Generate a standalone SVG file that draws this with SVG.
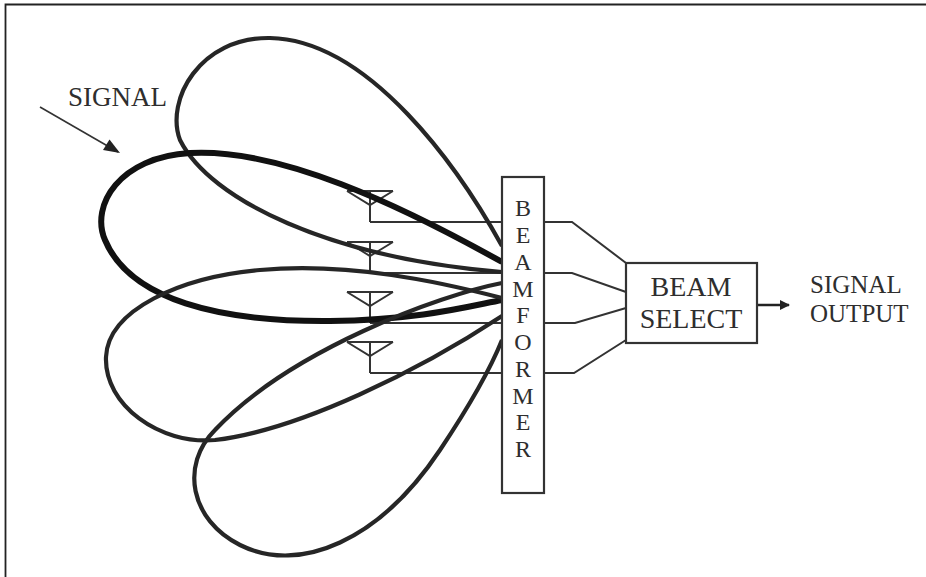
<svg xmlns="http://www.w3.org/2000/svg" width="926" height="577" viewBox="0 0 926 577">
<style>
.lobe{fill:none;stroke:#262626;stroke-width:4.2;stroke-linejoin:round}
.lobe.main{stroke:#111;stroke-width:6}
.wire{fill:none;stroke:#333;stroke-width:2}
.ant{fill:none;stroke:#333;stroke-width:2}
.box{fill:#fff;stroke:#333;stroke-width:2.2}
.lbl{font-family:"Liberation Serif","Times New Roman",serif;fill:#2e2e2e}
</style>
<defs>
<marker id="ah" markerWidth="10" markerHeight="10" refX="9" refY="5" orient="auto" markerUnits="userSpaceOnUse" viewBox="0 0 10 10">
<path d="M0,0 L10,5 L0,10 Z" fill="#222"/>
</marker>
</defs>
<rect width="926" height="577" fill="#fff"/>
<path d="M5.5 577 V4.5 H926" fill="none" stroke="#222" stroke-width="1.8"/>

<g id="connectors">
<path class="wire" d="M370 222 H502 M370 273 H502 M370 323 H502 M370 373 H502"/>
<path class="wire" d="M544 222 H572 L626 263 M544 273 H572 L626 292 M544 323 H575 L626 308 M544 373 H574 L626 340"/>
<line x1="757" y1="305" x2="789" y2="305" stroke="#222" stroke-width="2.5" marker-end="url(#ah)"/>
<line x1="40" y1="107" x2="118" y2="152" stroke="#333" stroke-width="1.6"/>
<path d="M120 153 L103 150 L109.5 139.5 Z" fill="#222"/>
</g>

<g id="antennas">
<g id="antenna1"><path class="ant" d="M347 191 H393 M347 191 L370 205 L393 191 M370 191 V222"/></g>
<g id="antenna2"><path class="ant" d="M347 242 H393 M347 242 L370 256 L393 242 M370 242 V273"/></g>
<g id="antenna3"><path class="ant" d="M347 292 H393 M347 292 L370 306 L393 292 M370 292 V323"/></g>
<g id="antenna4"><path class="ant" d="M347 342 H393 M347 342 L370 356 L393 342 M370 342 V373"/></g>
</g>

<g id="lobes">
<path class="lobe" d="M502 246 C460 170 370 40 270 38 C200 37 165 100 180 140 C210 200 330 258 502 272"/>
<path class="lobe main" d="M502 262 C400 205 280 148 190 153 C120 157 90 205 105 240 C130 300 220 322 330 321 C420 320 470 306 502 300"/>
<path class="lobe" d="M502 298 C440 282 350 262 260 270 C180 277 108 310 106 357 C104 405 160 445 215 440 C300 430 420 370 502 316"/>
<path class="lobe" d="M502 283 C440 295 290 350 215 430 C180 465 190 520 240 545 C300 575 380 540 440 450 C470 405 490 370 502 340"/>
</g>

<g id="beamformer">
<rect class="box" x="502" y="177" width="42" height="316"/>
<g class="lbl" font-size="24" text-anchor="middle">
<text x="523" y="216">B</text>
<text x="523" y="243">E</text>
<text x="523" y="270">A</text>
<text x="523" y="297">M</text>
<text x="523" y="323">F</text>
<text x="523" y="350">O</text>
<text x="523" y="377">R</text>
<text x="523" y="404">M</text>
<text x="523" y="430">E</text>
<text x="523" y="457">R</text>
</g>
</g>

<g id="beam-select">
<rect class="box" x="626" y="263" width="131" height="80" stroke-width="3"/>
<text class="lbl" x="691" y="296" font-size="28" text-anchor="middle">BEAM</text>
<text class="lbl" x="691" y="328" font-size="28" text-anchor="middle">SELECT</text>
</g>

<g id="signal-output">
<text class="lbl" x="810" y="293" font-size="25">SIGNAL</text>
<text class="lbl" x="810" y="322" font-size="25">OUTPUT</text>
</g>

<g id="signal-label">
<text class="lbl" x="68" y="106" font-size="27">SIGNAL</text>
</g>
</svg>
